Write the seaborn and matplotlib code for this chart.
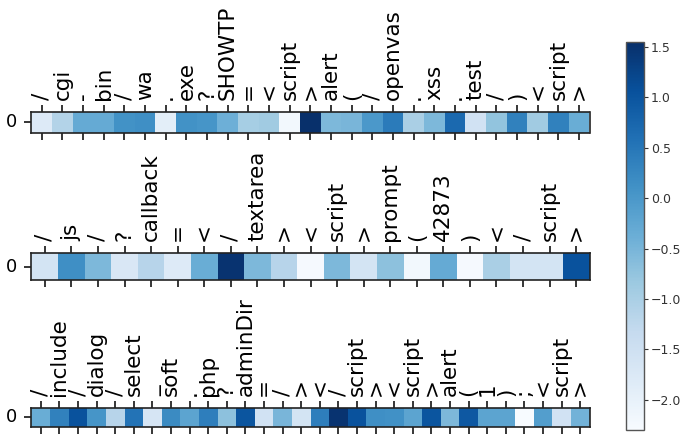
import matplotlib
matplotlib.use("Agg")
import matplotlib.pyplot as plt
import numpy as np
import seaborn as sns

# tokens and attribution scores, one row per request
row1_tokens = ["/", "cgi", "-", "bin", "/", "wa", ".", "exe", "?", "SHOWTP", "=", "<",
               "script", ">", "alert", "(", "/", "openvas", ".", "xss", ".", "test", "/",
               ")", "<", "script", ">"]
row1_scores = [-1.8, -1.1, -0.3, -0.3, 0.1, 0.15, -1.9, 0.1, 0.05, -0.4, -0.95, -0.9,
               -2.2, 1.55, -0.55, -0.5, 0.0, 0.45, -1.0, -0.55, 0.7, -1.55, -0.75,
               0.35, -0.9, 0.35, -0.35]

row2_tokens = ["/", "js", "/", "?", "callback", "=", "<", "/", "textarea", ">", "<",
               "script", ">", "prompt", "(", "42873", ")", "<", "/", "script", ">"]
row2_scores = [-1.6, 0.15, -0.55, -1.7, -1.15, -1.8, -0.35, 1.5, -0.55, -1.15, -2.25,
               -0.55, -1.6, -0.7, -2.2, -0.3, -2.25, -1.0, -1.6, -1.6, 1.05]

row3_tokens = ["/", "include", "/", "dialog", "/", "select", "_", "soft", ".", "php", "?",
               "adminDir", "=", "/", ">", "<", "/", "script", ">", "<", "script", ">",
               "alert", "(", "1", ")", ";", "<", "script", ">"]
row3_scores = [-0.35, 0.35, 1.05, 0.05, -1.15, 0.55, -1.65, 0.2, -0.2, 0.4, -0.7, 1.0,
               -1.55, -0.5, -1.6, 0.4, 1.5, 1.05, 0.15, 0.12, -0.2, 1.0, -0.55, 0.95,
               -0.2, -0.2, -2.3, -0.1, -1.55, -0.45]

cbar_ticks = [1.5, 1.0, 0.5, 0.0, -0.5, -1.0, -1.5, -2.0]

W, H = 685, 437


def box(left, top, width, height):
    return [left / W, (H - top - height) / H, width / W, height / H]


def main() -> None:
    rows = [(row1_tokens, row1_scores, 112.0),
            (row2_tokens, row2_scores, 253.3),
            (row3_tokens, row3_scores, 408.0)]
    all_scores = row1_scores + row2_scores + row3_scores
    vmin, vmax = min(all_scores), max(all_scores)

    fig = plt.figure(figsize=(W / 100, H / 100), dpi=100)
    cax = fig.add_axes(box(626, 42, 18, 388))

    for i, (tokens, scores, top) in enumerate(rows):
        width = 558.0
        # square cells: the row height follows the token count
        ax = fig.add_axes(box(31.5, top, width, width / len(tokens)))
        sns.heatmap(np.array([scores]), ax=ax, cmap="Blues", vmin=vmin, vmax=vmax,
                    cbar=(i == 0), cbar_ax=cax if i == 0 else None,
                    xticklabels=tokens, yticklabels=["0"])
        ax.tick_params(axis="x", top=True, labeltop=True, bottom=True, labelbottom=False,
                       labelsize=15.5, length=5, width=1.1, pad=4)
        plt.setp(ax.get_xticklabels(), rotation=90)
        ax.tick_params(axis="y", labelsize=13, length=5, width=1.1, pad=5)
        plt.setp(ax.get_yticklabels(), rotation=0)
        for spine in ax.spines.values():
            spine.set_visible(True)
            spine.set_linewidth(1.2)
            spine.set_color("#222222")

    cb = fig.axes[1].collections[0].colorbar
    cb.set_ticks(cbar_ticks)
    cb.outline.set_visible(True)
    cb.outline.set_linewidth(1.0)
    cb.outline.set_edgecolor("#555555")
    cax.tick_params(labelsize=9, length=3, width=0.8, pad=2, colors="#333333")

    fig.savefig("out.png", dpi=100)
    plt.close(fig)


if __name__ == "__main__":
    main()
